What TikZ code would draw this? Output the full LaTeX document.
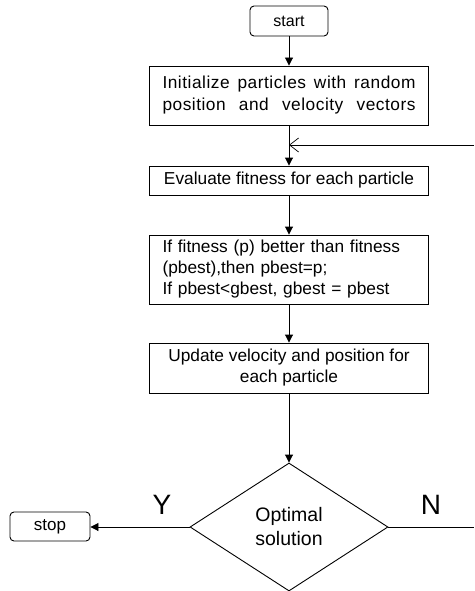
\documentclass[tikz,border=0pt]{standalone}
\usepackage{fontspec}
\setmainfont{Liberation Sans}
\newfontfamily\spacedfont[LetterSpace=3]{Liberation Sans}
\usetikzlibrary{shapes.geometric,arrows.meta}
\begin{document}
\begin{tikzpicture}[x=1pt,y=-1pt,
  procbox/.style={draw,line width=0.9pt,minimum width=279pt,inner sep=0pt},
  termbox/.style={draw,line width=0.9pt,rounded corners=4pt,inner sep=0pt},
  decbox/.style={draw,line width=0.9pt,diamond,minimum width=198pt,minimum height=128pt,inner sep=0pt,aspect=1.55},
  flow/.style={line width=0.9pt,-{Triangle[length=8pt,width=8pt]}},
  back/.style={line width=0.7pt,-{Straight Barb[length=9pt,width=14pt]}},
  lbl/.style={font=\fontsize{28}{30}\selectfont}
]
\useasboundingbox (0,0) rectangle (474,591);
\node[termbox,minimum width=78pt,minimum height=30pt,font=\fontsize{16}{18}\selectfont] (start) at (289,21) {start};
\node[procbox,minimum height=59pt,font=\spacedfont\fontsize{17.3}{22}\selectfont,align=center] (init) at (289,95.5)
  {\makebox[253pt][s]{Initialize particles with random}\\\makebox[253pt][s]{position and velocity vectors}};
\node[procbox,minimum height=29pt,font=\fontsize{17.3}{20}\selectfont] (eval) at (289,180.5) {Evaluate fitness for each particle};
\node[procbox,minimum height=69pt,font=\fontsize{17.3}{21}\selectfont,align=left,text width=253pt] (ifb) at (289,269.5)
  {If fitness (p) better than fitness\\(pbest),then pbest=p;\\If pbest<gbest, gbest = pbest};
\node[procbox,minimum height=50pt,font=\fontsize{17.3}{21}\selectfont,align=center] (upd) at (289,368)
  {Update velocity and position for\\each particle};
\node[decbox,font=\fontsize{19.5}{24}\selectfont,align=center] (dec) at (289,527) {Optimal\\solution};
\node[termbox,minimum width=80pt,minimum height=29pt,font=\fontsize{17}{19}\selectfont] (stop) at (50,526.5) {stop};
\coordinate (loopR) at (474,145);
\coordinate (loopL) at (289,145);
\coordinate (nR) at (474,527);
\draw[flow] (start) -- (init);
\draw[flow] (init) -- (eval);
\draw[flow] (eval) -- (ifb);
\draw[flow] (ifb) -- (upd);
\draw[flow] (upd) -- (dec.north);
\draw[flow] (dec.west) -- (stop.east |- dec.west);
\draw[line width=0.9pt] (dec.east) -- (nR);
\draw[back] (loopR) -- (loopL);
\node[lbl] (ylab) at (162,505) {Y};
\node[lbl] (nlab) at (431,505) {N};
\end{tikzpicture}
\end{document}
